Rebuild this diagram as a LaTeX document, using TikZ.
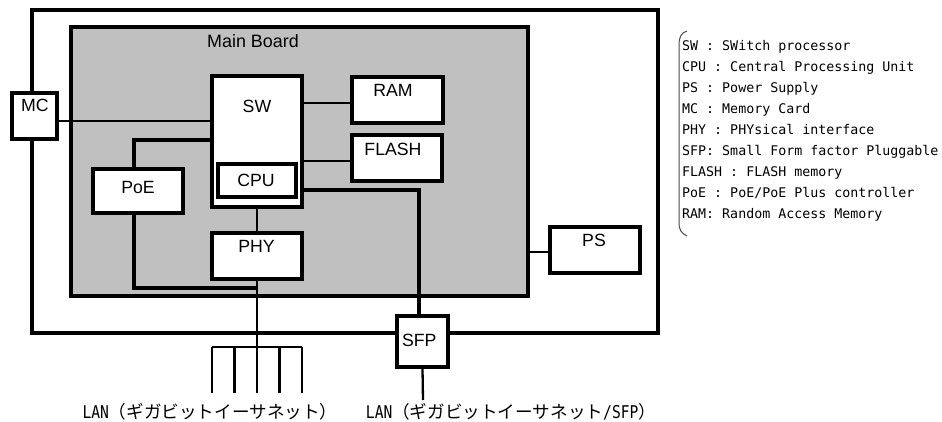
\documentclass[tikz,border=0pt]{standalone}
\usepackage{fontspec}
\setmainfont{Liberation Sans}
\newfontfamily\legfont{DejaVu Sans Mono}
\newfontfamily\lanfont[FakeStretch=0.83]{DejaVu Sans Mono}
\newfontfamily\jpfont{Noto Sans CJK JP}
\begin{document}
\begin{tikzpicture}[x=1pt,y=-1pt,
  box/.style={draw, line width=3.2pt, fill=white, inner sep=0pt, rectangle},
  lbl/.style={anchor=base, font=\fontsize{17.7}{20}\selectfont, inner sep=0pt},
  wire/.style={line width=2.3pt},
  thickwire/.style={line width=3.5pt},
  legitem/.style={anchor=base west, inner sep=0pt, font=\fontsize{13.3}{16}\legfont},
  lanlbl/.style={anchor=base, inner sep=0pt, font=\fontsize{17.6}{20}\selectfont}
]
\useasboundingbox (0,0) rectangle (942,421);
% outer enclosure and main board
\node[draw, line width=3.2pt, inner sep=0pt, minimum width=626pt, minimum height=323pt] (outer) at (345,171.5) {};
\node[draw, line width=3.2pt, fill={rgb,255:red,192;green,192;blue,192}, inner sep=0pt, minimum width=457pt, minimum height=269pt] (mb) at (299.5,161.5) {};
\node[lbl, font=\fontsize{17.9}{20}\selectfont] (mbl) at (253,47) {Main Board};
% boxes
\node[box, minimum width=45pt, minimum height=46pt] (mc) at (34.5,116) {};
\node[box, minimum width=90pt, minimum height=131pt] (sw) at (257,141.5) {};
\node[box, minimum width=78pt, minimum height=33pt] (cpu) at (257,180.5) {};
\node[box, minimum width=90pt, minimum height=44pt] (poe) at (138,191) {};
\node[box, minimum width=91pt, minimum height=46pt] (ram) at (397.5,100) {};
\node[box, minimum width=90pt, minimum height=46pt] (flash) at (397,158) {};
\node[box, minimum width=90pt, minimum height=46pt] (phy) at (257,256) {};
\node[box, minimum width=90pt, minimum height=46pt] (ps) at (595,250) {};
\node[box, minimum width=51pt, minimum height=51pt] (sfp) at (422.5,341.5) {};
% box labels
\node[lbl] (mct) at (35,111.7) {MC};
\node[lbl] (swt) at (257,112.5) {SW};
\node[lbl] (cput) at (256,186) {CPU};
\node[lbl] (poet) at (138,193) {PoE};
\node[lbl] (ramt) at (393,96.5) {RAM};
\node[lbl] (flasht) at (393,155) {FLASH};
\node[lbl] (phyt) at (256.5,252) {PHY};
\node[lbl] (pst) at (594,246) {PS};
\node[lbl] (sfpt) at (419.3,346.5) {SFP};
% connectors
\draw[wire] (mc.east |- 0,121) -- (sw.west |- 0,121);
\draw[wire] (sw.east |- 0,103) -- (ram.west |- 0,103);
\draw[wire] (sw.east |- 0,161) -- (flash.west |- 0,161);
\draw[thickwire] (sw.west |- 0,140) -| ([xshift=-4pt]poe.north);
\draw[thickwire] (sw.east |- 0,190) -| ([xshift=-3.5pt]sfp.north);
\draw[wire] (sw.south) -- (phy.north);
\draw[thickwire] ([xshift=-4pt]poe.south) |- (phy.south |- 0,288);
\draw[wire] (ps.west |- 0,252) -- (mb.east |- 0,252);
% LAN bus
\coordinate (bus) at (257,347);
\coordinate (busl) at (212,347);
\coordinate (busr) at (302,347);
\draw[wire] (phy.south) -- (bus);
\draw[wire] (busl) -- (busr);
\foreach \xx [count=\i] in {212,234.5,257,279.5,302}{
  \coordinate (p\i) at (\xx,347);
  \coordinate (q\i) at (\xx,393);
  \draw[wire] (p\i) -- (q\i);
}
\coordinate (sfpend) at (423,400);
\draw[wire] (sfp.south) -- (sfpend);
% LAN labels
\node[lanlbl] (lan1) at (210,418) {{\lanfont LAN}{\jpfont （ギガビットイーサネット）}};
\node[lanlbl] (lan2) at (511,418) {{\lanfont LAN}{\jpfont （ギガビットイーサネット}{\lanfont /SFP}{\jpfont ）}};
% legend bracket
\draw[line width=1pt, black!70] (687,31) .. controls (681,33) and (679,37) .. (679,45) -- (679,222) .. controls (679,230) and (681,233) .. (687,236);
% legend
\foreach \t [count=\i from 0] in {SW : SWitch processor, CPU : Central Processing Unit, PS : Power Supply, MC : Memory Card, PHY : PHYsical interface, SFP: Small Form factor Pluggable, FLASH : FLASH memory, PoE : PoE/PoE Plus controller, RAM: Random Access Memory}{
  \node[legitem] (leg\i) at (682,{50+21.1*\i}) {\t};
}
\end{tikzpicture}
\end{document}
